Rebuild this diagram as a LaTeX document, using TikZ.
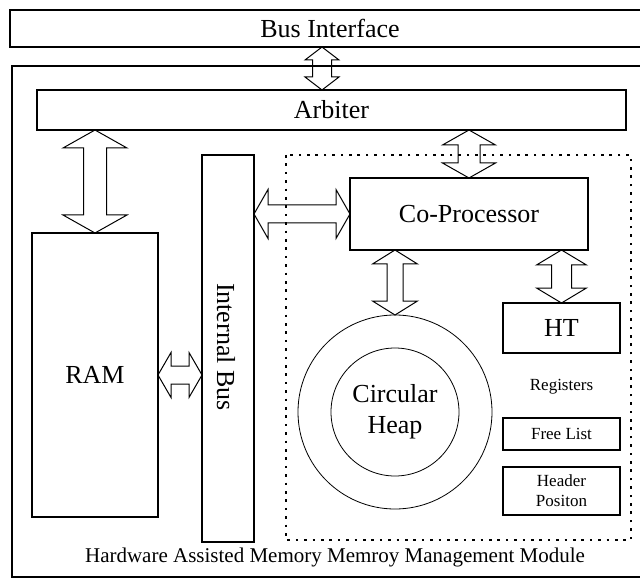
\documentclass[tikz,border=0pt]{standalone}
\usepackage{fontspec}
\setmainfont{Liberation Serif}
\usetikzlibrary{calc}

% vertical double block arrow from #1 (upper point) to #2 (lower point)
% #3 half head width, #4 half shaft width, #5 head length
\newcommand\vblock[5]{%
  \draw[blockarrow] let \p1=#1, \p2=#2 in
    (\x1,\y1) -- (\x1+#3,\y1-#5) -- (\x1+#4,\y1-#5) -- (\x1+#4,\y2+#5)
    -- (\x1+#3,\y2+#5) -- (\x1,\y2) -- (\x1-#3,\y2+#5) -- (\x1-#4,\y2+#5)
    -- (\x1-#4,\y1-#5) -- (\x1-#3,\y1-#5) -- cycle;}
% horizontal double block arrow from #1 (left point) to #2 (right point)
\newcommand\hblock[5]{%
  \draw[blockarrow] let \p1=#1, \p2=#2 in
    (\x1,\y1) -- (\x1+#5,\y1+#3) -- (\x1+#5,\y1+#4) -- (\x2-#5,\y1+#4)
    -- (\x2-#5,\y1+#3) -- (\x2,\y1) -- (\x2-#5,\y1-#3) -- (\x2-#5,\y1-#4)
    -- (\x1+#5,\y1-#4) -- (\x1+#5,\y1-#3) -- cycle;}

\tikzset{
  box/.style={draw, line width=1.2pt, inner sep=0pt, outer sep=0pt,
    font=\fontsize{26}{30}\selectfont},
  smallbox/.style={box, font=\fontsize{17}{20}\selectfont, align=center},
  ring/.style={draw, circle, line width=0.8pt, inner sep=0pt, outer sep=0pt},
  blockarrow/.style={draw, line width=1pt, line join=miter},
  dotline/.style={line width=2.6pt, dash pattern=on 2.6pt off 5.8pt},
}

\begin{document}
\begin{tikzpicture}[x=1pt, y=-1pt]
\useasboundingbox (0,0) rectangle (640,580);
\clip (0,0) rectangle (640,580);

% outer frames
\node[box, minimum width=640pt, minimum height=37pt] (bus) at (330,28.5) {Bus Interface};
\draw[line width=1.2pt] (660,66) -- (12,66) -- (12,577) -- (660,577);
\node[font=\fontsize{21}{25}\selectfont] (modlabel) at (335,557)
  {Hardware Assisted Memory Memroy Management Module};

% arbiter, memory and internal bus
\node[box, minimum width=589pt, minimum height=40pt] (arb) at (331.5,110) {Arbiter};
\node[box, minimum width=126pt, minimum height=284pt] (ram) at (95,375) {RAM};
\node[box, minimum width=52pt, minimum height=387pt] (ibus) at (228,348.5) {};
\node[rotate=-90, font=\fontsize{26}{30}\selectfont] (ibuslabel) at (226,347) {Internal Bus};

% memory management unit
\draw[dotline] (286,155) rectangle (631,540);
\node[box, minimum width=238pt, minimum height=72pt] (cpu) at (469,214) {Co-Processor};
\node[ring, minimum size=194pt] (heap) at (395,412) {};
\node[ring, minimum size=128pt, align=center, font=\fontsize{26}{31}\selectfont]
  (heapin) at (395,412) {Circular\\Heap};
\node[box, minimum width=117pt, minimum height=50pt] (ht) at (561.5,328) {HT};
\node[font=\fontsize{17}{20}\selectfont] (regs) at (561.5,387) {Registers};
\node[smallbox, minimum width=117pt, minimum height=32pt] (free) at (561.5,434) {Free List};
\node[smallbox, minimum width=117pt, minimum height=48pt] (hdr) at (561.5,491) {Header\\Positon};

% connectors
\coordinate (busx) at (322,0);
\vblock{(bus.south -| busx)}{(arb.north -| busx)}{17pt}{9.5pt}{13pt}
\vblock{(arb.south -| ram.north)}{(ram.north)}{32pt}{11.5pt}{18pt}
\vblock{(arb.south -| cpu.north)}{(cpu.north)}{26.5pt}{11pt}{15pt}
\vblock{(cpu.south -| heap.north)}{(heap.north)}{22.5pt}{8pt}{14pt}
\vblock{(cpu.south -| ht.north)}{(ht.north)}{25pt}{10pt}{15pt}
\hblock{(cpu.west -| ibus.east)}{(cpu.west)}{24.5pt}{9pt}{14pt}
\hblock{(ram.east)}{(ram.east -| ibus.west)}{22.5pt}{9pt}{13pt}
\end{tikzpicture}
\end{document}
